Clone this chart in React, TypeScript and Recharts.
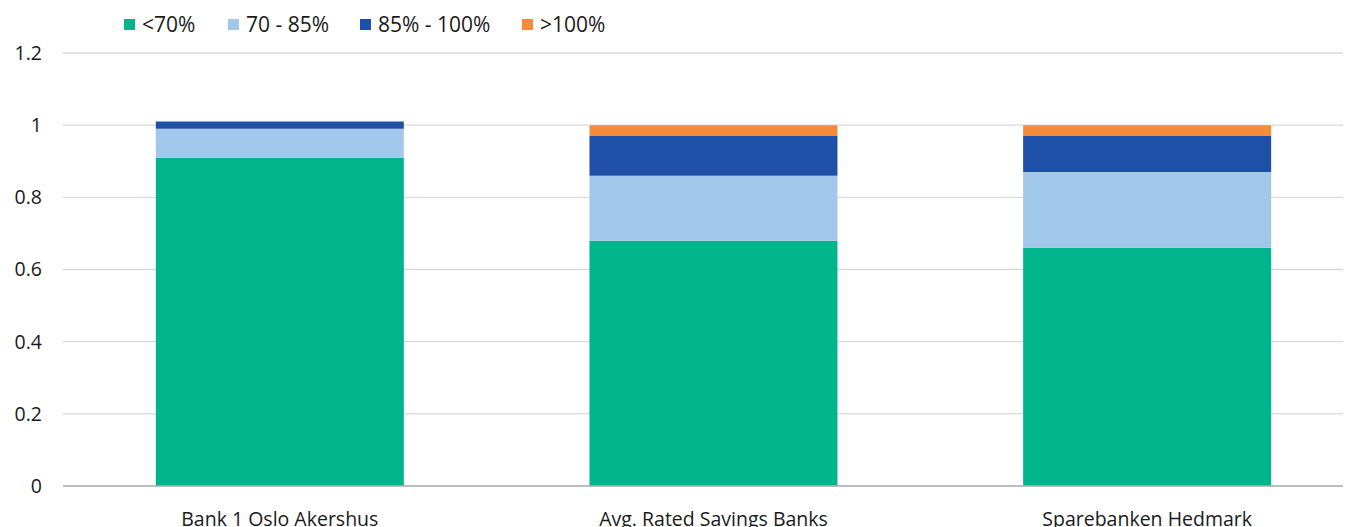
import React from "react";
import { BarChart, Bar, XAxis, YAxis, CartesianGrid, Legend } from "recharts";

const categories = ["Bank 1 Oslo Akershus", "Avg. Rated Savings Banks", "Sparebanken Hedmark"];
const below70 = [0.91, 0.68, 0.66];
const from70to85 = [0.08, 0.18, 0.21];
const from85to100 = [0.02, 0.11, 0.1];
const above100 = [0, 0.03, 0.03];
const yTicks = [0, 0.2, 0.4, 0.6, 0.8, 1, 1.2];

const seriesNames = ["<70%", "70 - 85%", "85% - 100%", ">100%"];
const seriesKeys = ["a", "b", "c", "d"];
const colors = ["#00B48C", "#A1C7EB", "#1F50A8", "#F58C3C"];

const data = categories.map((name, i) => ({
  name,
  a: below70[i],
  b: from70to85[i],
  c: from85to100[i],
  d: above100[i],
}));

const FONT = "'Open Sans', 'Noto Sans', sans-serif";
const legendOffsets = [116, 220, 352, 514];

const renderLegend = (props: any) => {
  const payload = [...(props.payload || [])].sort(
    (p: any, q: any) => seriesNames.indexOf(p.value) - seriesNames.indexOf(q.value)
  );
  return (
    <div style={{ position: "relative", height: 44, width: 700, fontFamily: FONT, fontSize: 21, color: "#1a1a1a" }}>
      {payload.map((p: any) => {
        const idx = seriesNames.indexOf(p.value);
        return (
          <div key={p.value} style={{ position: "absolute", left: legendOffsets[idx], top: 1, display: "flex", alignItems: "center", height: 28, whiteSpace: "nowrap" }}>
            <span style={{ display: "inline-block", width: 11, height: 11, background: colors[idx], marginRight: 7 }} />
            <span>{p.value}</span>
          </div>
        );
      })}
    </div>
  );
};

export default function App() {
  return (
    <div style={{ width: 1343, height: 519, overflow: "hidden" }}>
      <BarChart
        width={1356}
        height={519}
        data={data}
        margin={{ top: 1, right: 0, bottom: 0, left: 0 }}
        barCategoryGap="21.4%"
      >
        <CartesianGrid horizontal={true} vertical={false} stroke="#D9D9D9" strokeWidth={1.3} />
        <XAxis
          dataKey="name"
          height={41}
          tickLine={false}
          axisLine={{ stroke: "#B0B0B0", strokeWidth: 1.5 }}
          tick={{ fill: "#1a1a1a", fontSize: 19.5, fontFamily: FONT }}
          tickMargin={20}
        />
        <YAxis
          width={55}
          domain={[0, 1.2]}
          ticks={yTicks}
          axisLine={false}
          tickLine={false}
          tickSize={0}
          tickMargin={21}
          tick={{ fill: "#1a1a1a", fontSize: 19.5, fontFamily: FONT }}
        />
        <Legend verticalAlign="top" align="left" content={renderLegend} />
        {seriesKeys.map((k, i) => (
          <Bar key={k} dataKey={k} name={seriesNames[i]} stackId="s" fill={colors[i]} isAnimationActive={false} />
        ))}
      </BarChart>
    </div>
  );
}
